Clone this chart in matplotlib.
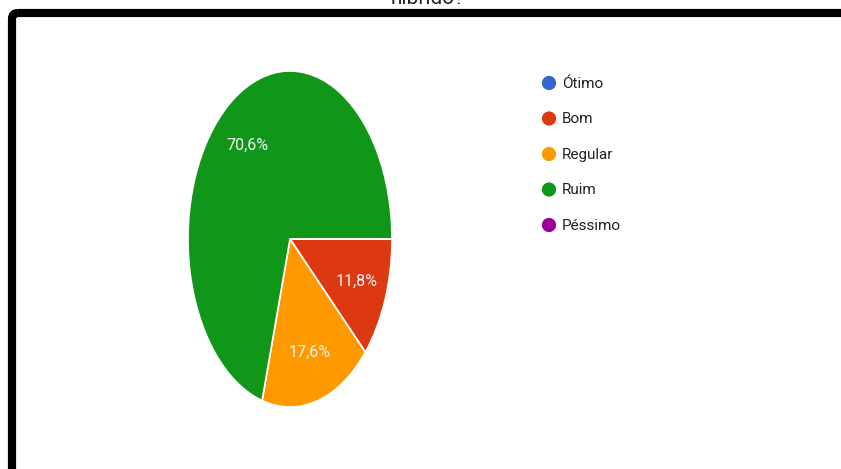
import matplotlib.pyplot as plt
from matplotlib.patches import FancyBboxPatch

plt.rcParams['font.family'] = ['Roboto', 'DejaVu Sans']

titulo = "híbrido?"
categorias = ["Ótimo", "Bom", "Regular", "Ruim", "Péssimo"]
respostas = [0, 2, 3, 12, 0]
cores = ["#3366cc", "#dc3912", "#ff9900", "#109618", "#990099"]

W, H = 841, 469
fig = plt.figure(figsize=(W / 100, H / 100), dpi=100)

# camada de fundo em pixels para moldura, titulo e legenda
bg = fig.add_axes([0, 0, 1, 1])
bg.set_xlim(0, W)
bg.set_ylim(H, 0)
bg.axis("off")

moldura = FancyBboxPatch((12, 13), 1000, 700, boxstyle="round,pad=0,rounding_size=6",
                         fill=False, edgecolor="black", linewidth=5.9)
bg.add_patch(moldura)
bg.text(428, 4.5, titulo, ha="center", va="baseline", fontsize=15, color="#202124")

# legenda
for i, (nome, cor) in enumerate(zip(categorias, cores)):
    y = 83 + i * 35.5
    bg.scatter(549, y, s=105, color=cor, edgecolors="none")
    bg.text(562, y + 0.5, nome, ha="left", va="center", fontsize=11, color="#222222")

# pizza (esticada na vertical)
ax = fig.add_axes([188 / W, (H - 407) / H, 204 / W, 336 / H])
total = sum(respostas)


def rotulo(p):
    return ("%.1f%%" % p).replace(".", ",") if p > 0 else ""


ax.pie(respostas, colors=cores, startangle=0, counterclock=False,
       autopct=rotulo, pctdistance=0.7,
       wedgeprops=dict(edgecolor="white", linewidth=1.2),
       textprops=dict(color="#f4f4f4", fontsize=11.5))
ax.set_aspect("auto")
ax.set_xlim(-1, 1)
ax.set_ylim(-1, 1)

fig.savefig("out.png", dpi=100)
